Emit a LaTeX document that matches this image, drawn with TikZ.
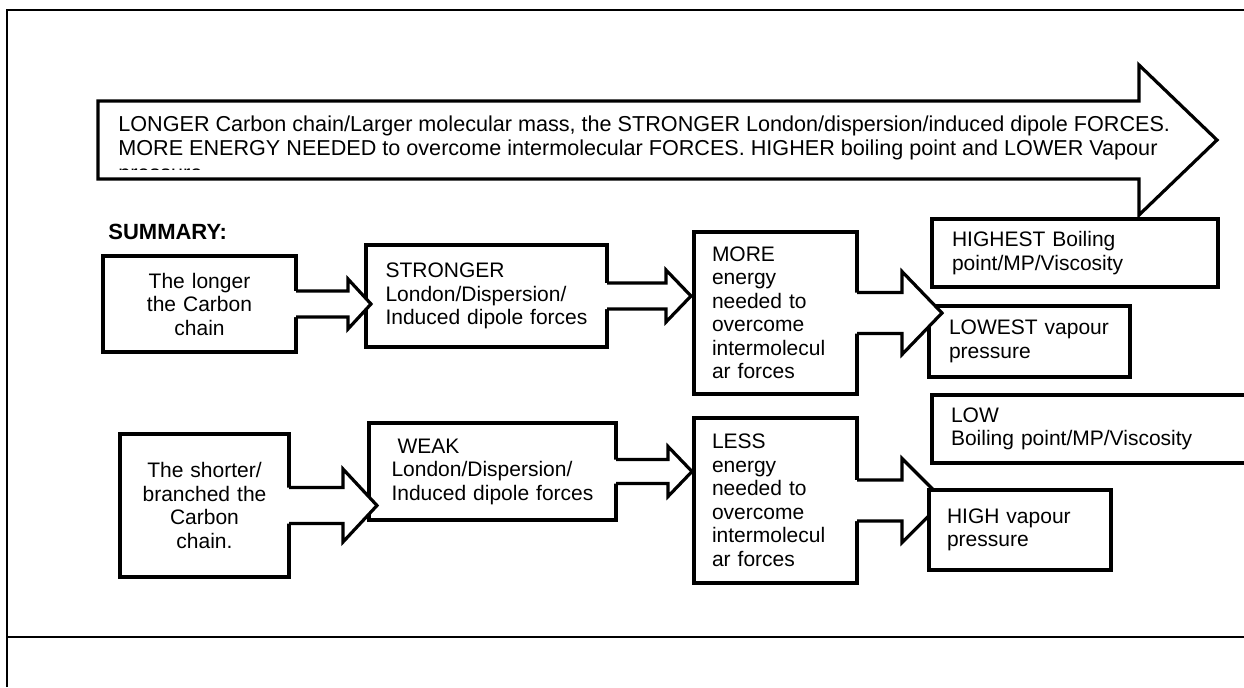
\documentclass[tikz,border=0pt]{standalone}
\usepackage{fontspec}
\setmainfont{Liberation Sans}
\usetikzlibrary{calc}

\newcommand{\boxfont}{\fontsize{10.5}{11.75}\selectfont}
\newcommand{\bigfont}{\fontsize{10.8}{12.25}\selectfont}

\tikzset{
	frame/.style={line width=1.1pt},
	outline/.style={line width=1.6pt},
	box/.style={outline, draw, fill=white, anchor=north west, outer sep=0pt,
		inner ysep=0pt, align=left, font=\boxfont},
	cbox/.style={box, align=center, inner xsep=4pt},
}

\newcommand{\blockarrow}[6]{%
	\coordinate (tip) at ($(#1.east -| #2)+(#6,0)$);
	\coordinate (neck) at ($(tip)-(#5,0)$);
	\fill[white] ($(#1.east)+(-2,-#3)$) -- ($(neck)+(0,-#3)$) -- ($(neck)+(0,-#4)$) -- (tip)
		-- ($(neck)+(0,#4)$) -- ($(neck)+(0,#3)$) -- ($(#1.east)+(-2,#3)$) -- cycle;
	\draw[outline] ($(#1.east)+(0,-#3)$) -- ($(neck)+(0,-#3)$) -- ($(neck)+(0,-#4)$) -- (tip)
		-- ($(neck)+(0,#4)$) -- ($(neck)+(0,#3)$) -- ($(#1.east)+(0,#3)$);
}

\begin{document}
\begin{tikzpicture}[x=0.5pt,y=-0.5pt]
	\useasboundingbox (0,0) rectangle (1244,687);
	\clip (0,0) rectangle (1244,687);

	\draw[frame] (7,687) -- (7,10) -- (1244,10);
	\draw[frame] (7,637) -- (1244,637);

	\draw[outline, fill=white] (98,101) -- (1139,101) -- (1139,65) -- (1217,140)
		-- (1139,215) -- (1139,179) -- (98,179) -- cycle;
	\begin{scope}
		\clip (100,103) rectangle (1244,169);
		\node[font=\bigfont, align=left, inner sep=0pt, anchor=base west] (headline) at (118,180)
			{LONGER Carbon chain/Larger molecular mass, the STRONGER London/dispersion/induced dipole FORCES.\\
			MORE ENERGY NEEDED to overcome intermolecular FORCES. HIGHER boiling point and LOWER Vapour\\
			pressure};
	\end{scope}

	\node[font=\bfseries\fontsize{11}{13}\selectfont, inner sep=0pt, anchor=base west] (summary) at (108,239) {SUMMARY:};

	\node[cbox, text width=88.5pt, minimum height=48pt] (longer) at (103,256) {The longer\\the Carbon\\chain};
	\node[box, text width=101pt, inner xsep=9.75pt, minimum height=51pt] (stronger) at (366,245)
		{STRONGER\\London/Dispersion/\\Induced dipole forces};
	\node[box, text width=63.5pt, inner xsep=9pt, minimum height=81pt] (more) at (694,232)
		{MORE\\energy\\needed to\\overcome\\intermolecul\\ar forces};
	\node[box, text width=123pt, inner xsep=10pt, minimum height=34pt] (highest) at (932,219)
		{HIGHEST Boiling\\point/MP/Viscosity};
	\node[box, text width=80.5pt, inner xsep=10pt, minimum height=35.5pt] (lowest) at (929,306)
		{LOWEST vapour\\pressure};
	\node[box, text width=140pt, inner xsep=9.5pt, minimum height=34pt] (low) at (932,395)
		{LOW\\Boiling point/MP/Viscosity};

	\blockarrow{longer}{stronger.west}{13}{25}{23}{5}
	\blockarrow{stronger}{more.west}{13}{26}{25}{-3}
	\blockarrow{more}{lowest.west}{20.5}{41.5}{40}{13}

	\node[cbox, text width=76.5pt, minimum height=71.5pt] (shorter) at (120,434)
		{The shorter/\\branched the\\Carbon\\chain.};
	\node[box, text width=101pt, inner xsep=11.25pt, minimum height=48.5pt] (weak) at (369,423)
		{\hspace*{3pt}WEAK\\London/Dispersion/\\Induced dipole forces};
	\node[box, text width=63.5pt, inner xsep=9pt, minimum height=82.5pt] (less) at (694,418)
		{LESS\\energy\\needed to\\overcome\\intermolecul\\ar forces};
	\coordinate (highw) at (929,530);

	\blockarrow{shorter}{weak.west}{18}{36.5}{34}{8}
	\blockarrow{weak}{less.west}{12}{25}{24}{-2}
	\blockarrow{less}{highw}{20.5}{42}{42}{15}

	\node[box, anchor=west, text width=73pt, inner xsep=9pt, minimum height=40pt] (high) at (highw)
		{HIGH vapour\\pressure};
\end{tikzpicture}
\end{document}
